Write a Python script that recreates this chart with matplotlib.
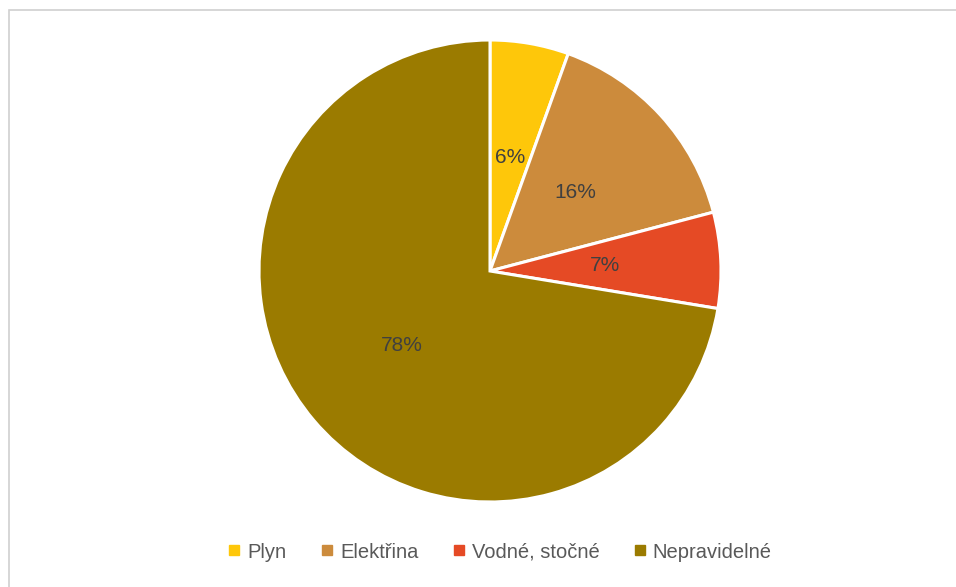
import matplotlib.pyplot as plt
from matplotlib.lines import Line2D
from matplotlib.patches import Rectangle

categories = ["Plyn", "Elektřina", "Vodné, stočné", "Nepravidelné"]
values = [5.5, 15.4, 6.7, 72.4]
labels = ["6%", "16%", "7%", "78%"]
colors = ["#FEC70A", "#CC8B3C", "#E54A25", "#9B7B00"]

plt.rcParams['font.family'] = ['Liberation Sans', 'DejaVu Sans']

W, H = 956, 587
fig = plt.figure(figsize=(W / 100, H / 100), dpi=100)

# light grey chart border (runs off the right/bottom edge like the original)
fig.patches.append(Rectangle((9 / W, -0.05), 1.1, (H - 9.5) / H + 0.05,
                             transform=fig.transFigure, fill=False,
                             edgecolor="#D0D0D0", linewidth=1.2))

cx, cy, r = 490, 271, 231
ax = fig.add_axes([(cx - r) / W, (H - cy - r) / H, 2 * r / W, 2 * r / H])
wedges, texts = ax.pie(values, labels=labels, colors=colors, startangle=90,
                       counterclock=False, labeldistance=0.5,
                       wedgeprops=dict(edgecolor="white", linewidth=2.2),
                       textprops=dict(color="#404040", fontsize=15))
for t in texts:
    t.set_ha("center")
    t.set_va("center")
ax.set_xlim(-1, 1)
ax.set_ylim(-1, 1)
ax.set_aspect("equal")
ax.axis("off")

handles = [Line2D([], [], marker="s", linestyle="none", markersize=7,
                  markerfacecolor=c, markeredgecolor=c) for c in colors]
fig.legend(handles, categories, loc="center", ncol=4,
           bbox_to_anchor=(499 / W, 1 - 552 / H), frameon=False,
           fontsize=14.5, labelcolor="#595959", handletextpad=0.25,
           columnspacing=1.6, handlelength=0.8)

fig.savefig("out.png", dpi=100, facecolor="white")
